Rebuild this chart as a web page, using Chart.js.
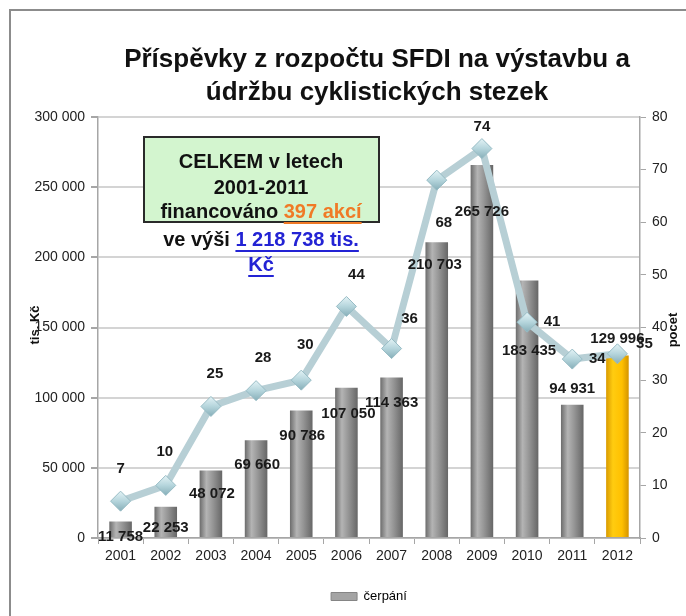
<!DOCTYPE html>
<html>
<head>
<meta charset="utf-8">
<script src="https://cdn.jsdelivr.net/npm/chart.js@4"></script>
<style>
  html, body { margin: 0; padding: 0; background: #fff; }
</style>
</head>
<body>
<canvas id="myChart" width="686" height="616"></canvas>
<script>
const years = ['2001', '2002', '2003', '2004', '2005', '2006', '2007', '2008', '2009', '2010', '2011', '2012'];
const cerpani = [11758, 22253, 48072, 69660, 90786, 107050, 114363, 210703, 265726, 183435, 94931, 129996];
const pocet = [7, 10, 25, 28, 30, 44, 36, 68, 74, 41, 34, 35];
const leftMax = 300000, leftStep = 50000;
const rightMax = 80, rightStep = 10;
const highlightYear = '2012';

// nudges (px) for the hand placed labels of the original
const barLabelShift = [[0, 15], [0, 21], [1, 23], [1, 25], [1, 25], [2, 26], [0, 25], [-2, 23], [0, 47], [2, 70], [0, -16], [0, -17]];
const lineLabelShift = [[0, -32], [-1, -34], [4, -33], [7, -33], [4, -35], [10, -32], [18, -30], [7, 43], [0, -22], [25, 0], [25, 0], [27, -10]];

Chart.defaults.font.family = '"Liberation Sans", Arial, sans-serif';
Chart.defaults.color = '#222';

function fmt(n) {
  return String(n).replace(/\B(?=(\d{3})+(?!\d))/g, ' ');
}

function barFill(ctx) {
  const chart = ctx.chart;
  if (ctx.type !== 'data' || !chart.chartArea) return '#999';
  const xs = chart.scales.x;
  const cx = xs.getPixelForValue(ctx.dataIndex);
  const half = xs.width / years.length * 0.25;
  const g = chart.ctx.createLinearGradient(cx - half, 0, cx + half, 0);
  if (years[ctx.dataIndex] === highlightYear) {
    g.addColorStop(0, '#d99a00');
    g.addColorStop(0.3, '#ffcc10');
    g.addColorStop(0.7, '#ffc000');
    g.addColorStop(1, '#d49400');
  } else {
    g.addColorStop(0, '#6c6c6c');
    g.addColorStop(0.3, '#b4b4b4');
    g.addColorStop(0.6, '#949494');
    g.addColorStop(1, '#666666');
  }
  return g;
}

function pointFill(ctx) {
  const chart = ctx.chart;
  if (ctx.type !== 'data' || !chart.chartArea) return '#a8cbd4';
  const y = chart.scales.y1.getPixelForValue(pocet[ctx.dataIndex]);
  const g = chart.ctx.createLinearGradient(0, y - 10, 0, y + 10);
  g.addColorStop(0, '#e4f3f6');
  g.addColorStop(0.5, '#b5d5dc');
  g.addColorStop(1, '#86aeb8');
  return g;
}

const decor = {
  id: 'decor',
  beforeDraw(chart) {
    const c = chart.ctx;
    c.save();
    c.fillStyle = '#fff';
    c.fillRect(0, 0, chart.width, chart.height);
    c.strokeStyle = '#8c8c8c';
    c.lineWidth = 2;
    c.beginPath();
    c.moveTo(10, chart.height);
    c.lineTo(10, 10);
    c.lineTo(chart.width, 10);
    c.stroke();

    // title
    c.fillStyle = '#111';
    c.font = 'bold 26px "Liberation Sans", Arial, sans-serif';
    c.textAlign = 'center';
    c.textBaseline = 'middle';
    c.fillText('Příspěvky z rozpočtu SFDI na výstavbu a', 377, 60);
    c.fillText('údržbu cyklistických stezek', 377, 93);

    // axis titles
    c.font = 'bold 13px "Liberation Sans", Arial, sans-serif';
    c.save();
    c.translate(35, 325);
    c.rotate(-Math.PI / 2);
    c.fillText('tis. Kč', 0, 0);
    c.restore();
    c.save();
    c.translate(673, 330);
    c.rotate(-Math.PI / 2);
    c.fillText('pocet', 0, 0);
    c.restore();
    c.restore();
  },
  afterDatasetsDraw(chart) {
    const c = chart.ctx;
    c.save();
    c.font = 'bold 15px "Liberation Sans", Arial, sans-serif';
    c.fillStyle = '#1a1a1a';
    c.textAlign = 'center';
    c.textBaseline = 'middle';
    chart.getDatasetMeta(1).data.forEach((el, i) => {
      const s = barLabelShift[i];
      c.fillText(fmt(cerpani[i]), el.x + s[0], el.y + s[1]);
    });
    chart.getDatasetMeta(0).data.forEach((el, i) => {
      const s = lineLabelShift[i];
      c.fillText(String(pocet[i]), el.x + s[0], el.y + s[1]);
    });
    c.restore();
  },
  afterDraw(chart) {
    const c = chart.ctx;
    c.save();
    c.fillStyle = '#d3f5cf';
    c.fillRect(144, 137, 235, 85);
    c.strokeStyle = '#2a2a2a';
    c.lineWidth = 2;
    c.strokeRect(144, 137, 235, 85);

    c.font = 'bold 20px "Liberation Sans", Arial, sans-serif';
    c.textBaseline = 'middle';
    c.textAlign = 'left';
    const lines = [
      [162, [['CELKEM v letech', '#111', false]]],
      [188, [['2001-2011', '#111', false]]],
      [212, [['financováno ', '#111', false], ['397 akcí', '#f07a26', true]]],
      [240, [['ve výši ', '#111', false], ['1 218 738 tis.', '#2323d4', true]]],
      [265, [['Kč', '#2323d4', true]]]
    ];
    lines.forEach(([y, parts]) => {
      const total = parts.reduce((w, p) => w + c.measureText(p[0]).width, 0);
      let x = 261 - total / 2;
      parts.forEach(([t, col, ul]) => {
        const w = c.measureText(t).width;
        c.fillStyle = col;
        c.fillText(t, x, y);
        if (ul) {
          c.strokeStyle = col;
          c.lineWidth = 2;
          c.beginPath();
          c.moveTo(x, y + 11);
          c.lineTo(x + w, y + 11);
          c.stroke();
        }
        x += w;
      });
    });
    c.restore();
  }
};

new Chart(document.getElementById('myChart'), {
  type: 'bar',
  data: {
    labels: years,
    datasets: [{
      type: 'line',
      label: 'pocet',
      data: pocet,
      yAxisID: 'y1',
      order: 0,
      borderColor: '#b7cfd5',
      borderWidth: 7,
      tension: 0,
      pointStyle: 'rectRot',
      pointRadius: 10,
      pointBackgroundColor: pointFill,
      pointBorderColor: '#97bcc5',
      pointBorderWidth: 1
    }, {
      label: 'čerpání',
      data: cerpani,
      yAxisID: 'y',
      order: 1,
      backgroundColor: barFill,
      borderWidth: 0,
      categoryPercentage: 1,
      barPercentage: 0.5
    }]
  },
  plugins: [decor],
  options: {
    responsive: false,
    animation: false,
    layout: { padding: { top: 117, left: 0, right: 0, bottom: 3 } },
    plugins: {
      tooltip: { enabled: false },
      legend: {
        position: 'bottom',
        fullSize: false,
        labels: {
          boxWidth: 26,
          boxHeight: 8,
          padding: 5,
          font: { size: 13 },
          color: '#222',
          generateLabels: () => [{
            text: 'čerpání',
            fillStyle: '#a4a4a4',
            strokeStyle: '#858585',
            lineWidth: 1,
            hidden: false,
            datasetIndex: 1
          }]
        }
      }
    },
    scales: {
      x: {
        afterFit: (s) => { s.height = 47; },
        grid: { offset: true, drawOnChartArea: false, tickLength: 6, color: '#a6a6a6' },
        border: { color: '#a6a6a6', width: 1.5 },
        ticks: { font: { size: 14 }, color: '#222', padding: 4 }
      },
      y: {
        position: 'left',
        min: 0,
        max: leftMax,
        afterFit: (s) => { s.width = 98; },
        grid: { color: '#d4d4d4', lineWidth: 2, tickLength: 7, tickColor: '#a6a6a6' },
        border: { color: '#a6a6a6', width: 1.5 },
        ticks: { stepSize: leftStep, font: { size: 14 }, color: '#222', padding: 6, callback: (v) => fmt(v) }
      },
      y1: {
        position: 'right',
        min: 0,
        max: rightMax,
        afterFit: (s) => { s.width = 46; },
        grid: { drawOnChartArea: false, tickLength: 6, color: '#a6a6a6' },
        border: { color: '#a6a6a6', width: 1.5 },
        ticks: { stepSize: rightStep, font: { size: 14 }, color: '#222', padding: 6 }
      }
    }
  }
});
</script>
</body>
</html>
